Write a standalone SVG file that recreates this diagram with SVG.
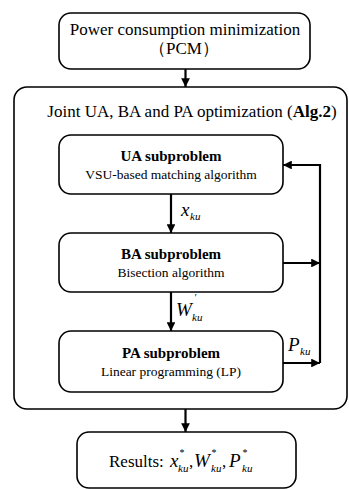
<svg xmlns="http://www.w3.org/2000/svg" width="349" height="489" viewBox="0 0 349 489">
<defs>
<marker id="ah" viewBox="0 0 10 10" refX="10" refY="5" markerWidth="4" markerHeight="4" orient="auto" markerUnits="strokeWidth">
<path d="M0,0 L10,5 L0,10 z" fill="#000"/>
</marker>
<style>
.box{fill:#fff;stroke:#000;stroke-width:1.6}
.t{font-family:"Liberation Serif","Times New Roman",serif;fill:#000;text-anchor:middle}
.n{font-size:17px}
.s{font-size:13.5px}
.b{font-weight:bold;font-size:15px}
.c{stroke:#000;stroke-width:2.2;fill:none}
.i{font-family:"Liberation Serif","Times New Roman",serif;font-style:italic;fill:#000}
.m{font-size:19px}
.u{font-size:11px}
.st{font-size:10px}
</style>
</defs>
<g id="pcm">
<rect class="box" x="59" y="13" width="251" height="56" rx="12"/>
<text class="t n" x="185" y="35">Power consumption minimization</text>
<text class="t n" x="184" y="54" font-family="'Liberation Serif','Noto Sans CJK SC',serif">（PCM）</text>
</g>
<g id="joint">
<rect class="box" x="14" y="87" width="333" height="322" rx="13"/>
<text class="t n" x="192" y="117">Joint UA, BA and PA optimization (<tspan font-weight="bold">Alg.2</tspan>)</text>
</g>
<g id="ua">
<rect class="box" x="59" y="135" width="224" height="59" rx="12"/>
<text class="t b" x="171" y="161">UA subproblem</text>
<text class="t s" x="171" y="179">VSU-based matching algorithm</text>
</g>
<g id="ba">
<rect class="box" x="59" y="233" width="224" height="59" rx="12"/>
<text class="t b" x="171" y="259">BA subproblem</text>
<text class="t s" x="171" y="277">Bisection algorithm</text>
</g>
<g id="pa">
<rect class="box" x="59" y="331" width="224" height="61" rx="12"/>
<text class="t b" x="171" y="358">PA subproblem</text>
<text class="t s" x="171" y="376">Linear programming (LP)</text>
</g>
<g id="results">
<rect class="box" x="77" y="432" width="219" height="56" rx="12"/>
<text x="109" y="467" font-family="'Liberation Serif','Times New Roman',serif" font-size="17" fill="#000">Results:</text>
<text class="i m" x="170" y="467">x</text>
<text class="i u" x="178" y="472">ku</text>
<text class="i st" x="179" y="456">*</text>
<text x="189" y="467" font-family="'Liberation Serif',serif" font-size="17">,</text>
<text class="i m" x="194" y="467">W</text>
<text class="i u" x="211" y="472">ku</text>
<text class="i st" x="211" y="456">*</text>
<text x="222" y="467" font-family="'Liberation Serif',serif" font-size="17">,</text>
<text class="i m" x="229" y="467">P</text>
<text class="i u" x="242" y="472">ku</text>
<text class="i st" x="242" y="456">*</text>
</g>
<g id="connectors">
<line class="c" x1="185.5" y1="69" x2="185.5" y2="87" marker-end="url(#ah)"/>
<line class="c" x1="171" y1="194" x2="171" y2="233" marker-end="url(#ah)"/>
<line class="c" x1="171" y1="292" x2="171" y2="331" marker-end="url(#ah)"/>
<line class="c" x1="185.5" y1="409" x2="185.5" y2="432" marker-end="url(#ah)"/>
<line class="c" x1="283" y1="263" x2="320" y2="263" marker-end="url(#ah)"/>
<line class="c" x1="283" y1="363" x2="320" y2="363" marker-end="url(#ah)"/>
<polyline class="c" points="320,363 320,165 283,165" marker-end="url(#ah)"/>
</g>
<g id="labels">
<text class="i m" x="181" y="216">x</text>
<text class="i u" x="190" y="220">ku</text>
<text class="i m" x="176" y="316">W</text>
<text class="i u" x="192" y="321">ku</text>
<text class="i st" x="194" y="301">'</text>
<text class="i m" x="288" y="351">P</text>
<text class="i u" x="300" y="355">ku</text>
</g>
</svg>
